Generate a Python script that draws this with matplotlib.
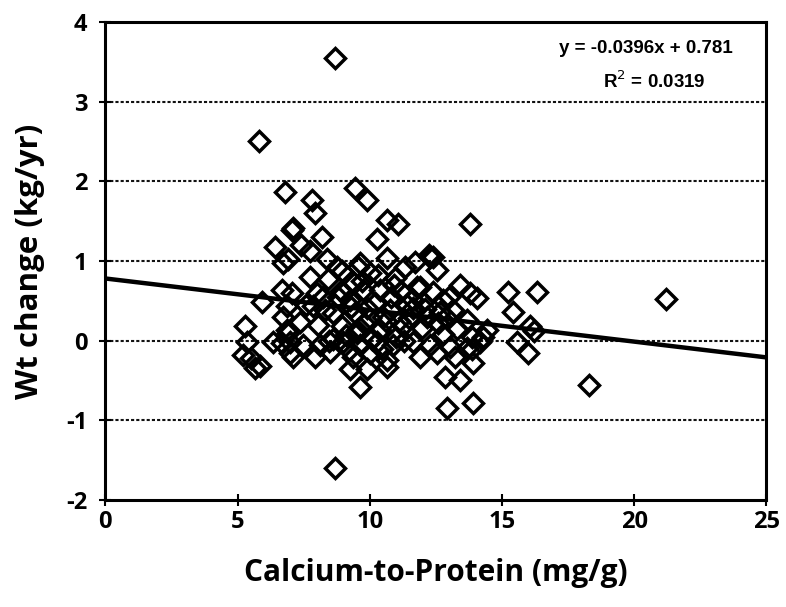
import matplotlib
matplotlib.use("Agg")
import matplotlib.pyplot as plt
import numpy as np

# Data
calcium_to_protein = [
    8.7, 5.8, 8.7, 21.2, 18.3, 16.34, 15.24, 15.43, 16.07, 15.58, 16.0,
    6.81, 7.07, 6.43, 6.73, 5.94, 6.69, 5.3, 5.37, 5.22, 5.5, 5.85, 6.35, 6.7, 6.92, 7.0, 6.73,
    7.83, 7.94, 9.46, 9.9, 10.67, 11.08, 10.29, 13.8, 7.1, 8.2, 6.9, 7.4, 7.75, 8.4, 9.65,
    10.67, 11.35, 11.72, 12.4, 12.25, 12.56, 7.75, 8.43, 8.96, 10.0, 10.97, 7.07, 8.25, 9.27,
    9.76, 10.4, 11.8, 12.4, 12.78, 13.43, 13.8, 14.07, 6.88, 7.87, 8.62, 9.46, 9.9, 10.78,
    11.65, 12.18, 12.67, 13.16, 13.69, 14.45, 6.88, 7.37, 8.06, 8.96, 9.53, 10.4, 11.27, 11.99,
    12.78, 13.88, 14.18, 7.0, 7.49, 8.13, 9.0, 9.64, 10.29, 10.89, 11.65, 12.29, 13.05, 13.69,
    7.11, 7.94, 8.51, 9.38, 10.02, 10.67, 11.91, 12.56, 13.24, 13.88, 9.27, 9.9, 10.67, 13.92,
    9.64, 12.86, 13.43, 12.93, 13.92, 5.67, 8.32, 9.57, 8.77, 12.29,
    9.0, 9.4, 10.2, 10.8, 11.2, 11.5, 9.8, 10.5, 11.0, 8.8, 9.1, 10.1, 11.4, 12.0,
    8.6, 9.2, 10.6, 11.9, 12.6, 13.0, 7.6, 8.0, 14.3, 16.2,
    9.7, 10.3, 10.9, 11.6, 9.3, 8.9, 10.0, 11.1, 12.1, 9.5, 10.45, 11.3, 8.45, 12.9, 13.3
]
wt_change = [
    3.55, 2.5, -1.6, 0.52, -0.55, 0.61, 0.61, 0.36, 0.18, -0.01, -0.15,
    1.86, 1.39, 1.17, 0.98, 0.48, 0.64, 0.18, -0.01, -0.18, -0.22, -0.32, -0.01, -0.03, 0.1, -0.15, 0.3,
    1.77, 1.6, 1.92, 1.77, 1.52, 1.46, 1.27, 1.46, 1.42, 1.3, 1.02, 1.2, 1.12, 1.02, 0.98,
    1.04, 0.92, 0.99, 1.05, 1.08, 0.89, 0.8, 0.77, 0.87, 0.85, 0.79, 0.6, 0.55, 0.51,
    0.64, 0.64, 0.68, 0.61, 0.51, 0.7, 0.6, 0.54, 0.43, 0.43, 0.35, 0.35, 0.41, 0.39,
    0.41, 0.3, 0.36, 0.39, 0.26, 0.14, 0.14, 0.23, 0.2, 0.18, 0.14, 0.14, 0.18, 0.16,
    0.08, 0.05, -0.01, -0.01, -0.05, -0.05, -0.01, -0.05, -0.01, -0.05, -0.01, -0.05, -0.08, -0.09,
    -0.2, -0.2, -0.14, -0.2, -0.15, -0.24, -0.2, -0.15, -0.21, -0.11, -0.36, -0.36, -0.33, -0.28,
    -0.58, -0.46, -0.49, -0.84, -0.78, -0.34, 0.39, 0.93, 0.93, 1.05,
    0.6, 0.72, 0.47, 0.55, 0.62, 0.28, 0.22, 0.3, 0.05, 0.55, 0.07, 0.02, 0.45, 0.48,
    0.02, -0.12, 0.25, 0.68, 0.22, 0.55, 0.45, 0.6, 0.05, 0.12,
    0.75, 0.82, 0.7, 0.52, 0.42, 0.62, 0.28, 0.25, 0.4, 0.1, -0.1, 0.0, 0.0, 0.3, 0.15
]

slope = -0.0396
intercept = 0.781
r_squared = 0.0319

x_ticks = [0, 5, 10, 15, 20, 25]
y_ticks = [-2, -1, 0, 1, 2, 3, 4]

fig = plt.figure(figsize=(7.86, 6.07), dpi=100)
ax = fig.add_axes([0.134, 0.176, 0.841, 0.788])

for yv in y_ticks[1:-1]:
    ax.axhline(yv, color="#111111", linestyle=(0, (1.5, 1.0)), linewidth=1.5, zorder=1)

ax.plot(calcium_to_protein, wt_change, linestyle="none", marker="D", markersize=10.5,
        markerfacecolor="none", markeredgecolor="black", markeredgewidth=2.5, zorder=3)

xl = np.array([x_ticks[0], x_ticks[-1]])
ax.plot(xl, slope * xl + intercept, color="black", linewidth=3.2, zorder=4)

ax.set_xlim(x_ticks[0], x_ticks[-1])
ax.set_ylim(y_ticks[0], y_ticks[-1])
ax.set_xticks(x_ticks)
ax.set_yticks(y_ticks)

font = "Open Sans"
ax.set_xticklabels([str(t) for t in x_ticks], fontfamily=font, fontsize=17, fontweight="bold")
ax.set_yticklabels([str(t) for t in y_ticks], fontfamily=font, fontsize=17, fontweight="bold")
ax.tick_params(axis="both", direction="inout", length=8, width=1.5)
ax.tick_params(axis="x", pad=3)
ax.tick_params(axis="y", pad=9)

for s in ax.spines.values():
    s.set_linewidth(2.2)
    s.set_color("black")

ax.set_xlabel("Calcium-to-Protein (mg/g)", fontfamily=font, fontsize=21.5, fontweight="bold", labelpad=17)
ax.set_ylabel("Wt change (kg/yr)", fontfamily=font, fontsize=22.5, fontweight="bold", labelpad=15)

ax.text(0.818, 0.945, f"y = {slope}x + {intercept}", transform=ax.transAxes, ha="center", va="center",
        fontfamily="Liberation Sans", fontsize=13.5, fontweight="bold")
ax.text(0.83, 0.875, f"R$^2$ = {r_squared}", transform=ax.transAxes, ha="center", va="center",
        fontfamily="Liberation Sans", fontsize=13.5, fontweight="bold")

fig.savefig("out.png", dpi=100)
